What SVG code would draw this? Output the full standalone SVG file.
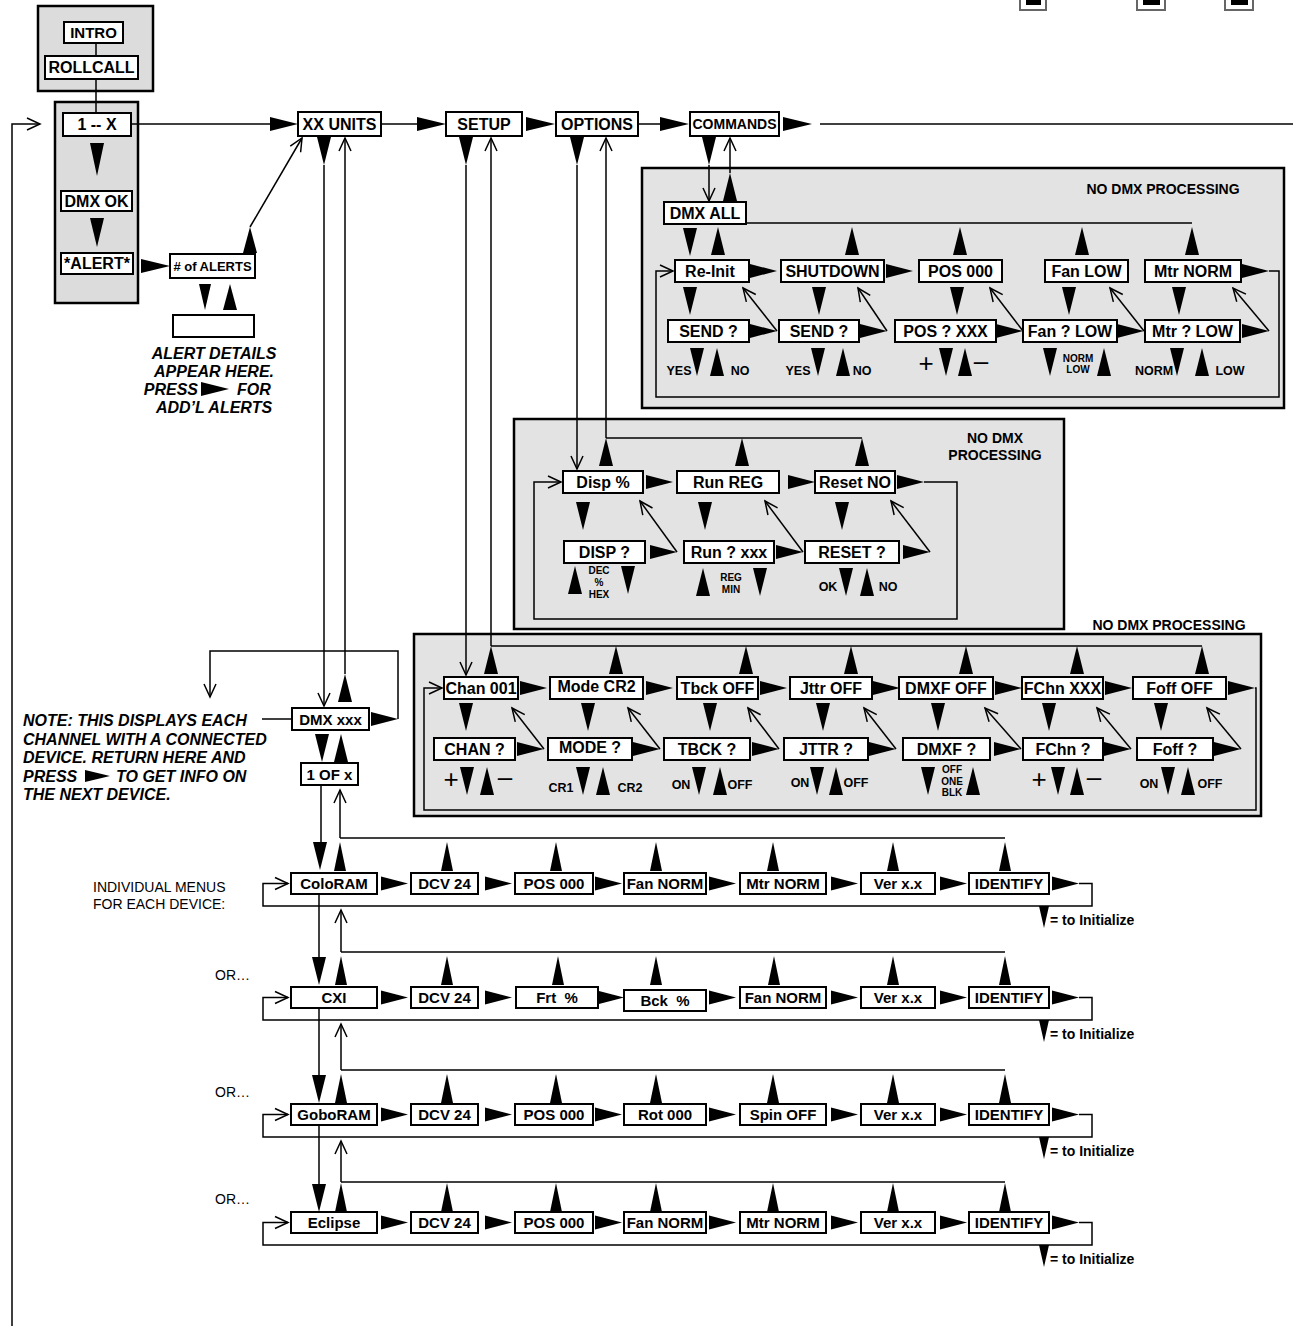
<svg xmlns="http://www.w3.org/2000/svg" width="1293" height="1336" viewBox="0 0 1293 1336">
<defs>
<style>
.pnl{fill:#e3e3e3;stroke:#000;stroke-width:2.5}
.pnl2{fill:#dcdcdc;stroke:#000;stroke-width:2.5}
.bx{fill:#fff;stroke:#000;stroke-width:2}
.ln{fill:none;stroke:#000;stroke-width:1.5}
.oa{marker-end:url(#oa)}
text{font-family:"Liberation Sans",Arial,Helvetica,sans-serif;font-weight:bold;fill:#000;dominant-baseline:central}
.c{text-anchor:middle}
.s{text-anchor:start}
.e{text-anchor:end}
.it{font-style:italic}
.rg{font-weight:normal}
.f10{font-size:10px}.f12{font-size:12.5px}.f13{font-size:13px}.f14{font-size:14px}.f15{font-size:15px}.f16{font-size:16px}.f24{font-size:26px;font-weight:normal}
</style>
<polygon id="R" points="0,-7 27,0 0,7"/>
<polygon id="D" points="-7,0 7,0 0,28"/>
<polygon id="U" points="0,0 7,28 -7,28"/>
<polygon id="Us" points="0,0 6,29 -6,29"/>
<polygon id="Ds" points="-5,0 5,0 0,22"/>
<marker id="oa" markerUnits="userSpaceOnUse" markerWidth="16" markerHeight="16" viewBox="-15 -8 16 16" refX="0" refY="0" orient="auto" overflow="visible"><path d="M-13,-6 L0,0 L-13,6" fill="none" stroke="#000" stroke-width="1.5"/></marker>
</defs>
<rect width="1293" height="1336" fill="#fff"/>

<g id="corner-marks">
<rect x="1020" y="-6" width="26" height="16" fill="#fff" stroke="#666" stroke-width="2"/><rect x="1026" y="-6" width="15" height="11" fill="#000"/>
<rect x="1137" y="-6" width="28" height="16" fill="#fff" stroke="#666" stroke-width="2"/><rect x="1143" y="-6" width="17" height="11" fill="#000"/>
<rect x="1225" y="-6" width="28" height="16" fill="#fff" stroke="#666" stroke-width="2"/><rect x="1231" y="-6" width="17" height="11" fill="#000"/>
</g>

<g id="panels">
<rect id="panel-intro" class="pnl2" x="38" y="6" width="115" height="85"/>
<rect id="panel-units" class="pnl2" x="55" y="102" width="83" height="201"/>
<rect id="panel-commands" class="pnl" x="642" y="168" width="642" height="240"/>
<rect id="panel-options" class="pnl" x="514" y="419" width="550" height="210"/>
<rect id="panel-setup" class="pnl" x="414" y="634" width="847" height="182"/>
<text class="c f14" x="1163" y="189">NO DMX PROCESSING</text>
<text class="c f14" x="995" y="438">NO DMX</text>
<text class="c f14" x="995" y="455">PROCESSING</text>
<text class="c f14" x="1169" y="625">NO DMX PROCESSING</text>
</g>

<g id="connectors">
<path class="ln" d="M96,43 V56 M96,79 V113"/>
<polygon points="90,143 104,143 97,176"/>
<polygon points="90,218 104,218 97,247"/>
<polygon points="141,259 170,266 141,273"/>
<polygon points="250,227 257,253 243,253"/>
<path class="ln oa" d="M250,227 L302,138"/>
<polygon points="199,284 211,284 205,310"/>
<polygon points="230,284 237,310 223,310"/>
<path class="ln" d="M131,124 H270"/>
<polygon points="270,117 298,124 270,131"/>
<path class="ln oa" d="M12,1326 V124 H40"/>
<path class="ln" d="M381,124 H417"/>
<polygon points="417,117 446,124 417,131"/>
<polygon points="526,117 555,124 526,131"/>
<path class="ln" d="M638,124 H660"/>
<polygon points="660,117 689,124 660,131"/>
<polygon points="783,117 812,124 783,131"/>
<path class="ln" d="M820,124 H1293"/>
<use href="#D" x="324" y="137"/>
<path class="ln oa" d="M324,165 V706"/>
<use href="#U" x="345" y="674"/>
<path class="ln oa" d="M345,674 V138"/>
<use href="#D" x="466" y="137"/>
<path class="ln oa" d="M466,165 V675"/>
<use href="#U" x="491" y="646"/>
<path class="ln oa" d="M491,646 V138"/>
<use href="#D" x="577" y="137"/>
<path class="ln oa" d="M577,165 V469"/>
<use href="#U" x="606" y="438"/>
<path class="ln oa" d="M606,438 V138"/>
<use href="#D" x="709" y="137"/>
<path class="ln oa" d="M709,165 V201"/>
<use href="#U" x="730" y="173"/>
<path class="ln oa" d="M730,173 V138"/>

<path class="ln" d="M747,223 H1192"/>
<use href="#D" x="690" y="228"/>
<use href="#U" x="718" y="227"/>
<use href="#U" x="852" y="227"/>
<use href="#U" x="960" y="227"/>
<use href="#U" x="1082" y="227"/>
<use href="#U" x="1192" y="227"/>
<use href="#R" x="750" y="271"/>
<use href="#R" x="886" y="271"/>
<use href="#R" x="1242" y="271"/>
<path class="ln oa" d="M1269,271 H1279 V397 H656 V271 H673"/>
<use href="#D" x="690" y="287"/>
<use href="#D" x="819" y="287"/>
<use href="#D" x="957" y="287"/>
<use href="#D" x="1069" y="287"/>
<use href="#D" x="1179" y="287"/>
<use href="#R" x="750" y="331"/>
<use href="#R" x="860" y="331"/>
<use href="#R" x="996" y="331"/>
<use href="#R" x="1117" y="331"/>
<use href="#R" x="1242" y="331"/>
<path class="ln oa" d="M777,331 L743,288"/>
<path class="ln oa" d="M887,331 L858,288"/>
<path class="ln oa" d="M1023,331 L990,288"/>
<path class="ln oa" d="M1144,331 L1110,288"/>
<path class="ln oa" d="M1269,331 L1233,288"/>
<use href="#D" x="697" y="348"/><use href="#U" x="717" y="348"/>
<use href="#D" x="818" y="348"/><use href="#U" x="843" y="348"/>
<use href="#D" x="946" y="348"/><use href="#U" x="965" y="348"/>
<use href="#D" x="1050" y="348"/><use href="#U" x="1104" y="348"/>
<use href="#D" x="1177" y="348"/><use href="#U" x="1202" y="348"/>

<path class="ln" d="M606,438 H862"/>
<use href="#U" x="742" y="438"/>
<use href="#U" x="862" y="438"/>
<use href="#R" x="646" y="482"/>
<use href="#R" x="788" y="482"/>
<use href="#R" x="897" y="482"/>
<path class="ln oa" d="M924,482 H957 V619 H534 V482 H561"/>
<use href="#D" x="583" y="502"/>
<use href="#D" x="705" y="502"/>
<use href="#D" x="842" y="502"/>
<use href="#R" x="650" y="552"/>
<use href="#R" x="776" y="552"/>
<use href="#R" x="903" y="552"/>
<path class="ln oa" d="M677,552 L640,501"/>
<path class="ln oa" d="M803,552 L765,501"/>
<path class="ln oa" d="M930,552 L891,501"/>
<use href="#U" x="575" y="566"/><use href="#D" x="628" y="566"/>
<use href="#U" x="703" y="568"/><use href="#D" x="760" y="568"/>
<use href="#D" x="846" y="568"/><use href="#U" x="867" y="568"/>

<path class="ln" d="M491,646 H1202"/>
<use href="#U" x="616" y="646"/>
<use href="#U" x="746" y="646"/>
<use href="#U" x="851" y="646"/>
<use href="#U" x="966" y="646"/>
<use href="#U" x="1077" y="646"/>
<use href="#U" x="1202" y="646"/>
<use href="#R" x="520" y="688"/>
<use href="#R" x="646" y="688"/>
<use href="#R" x="760" y="688"/>
<use href="#R" x="873" y="688"/>
<use href="#R" x="995" y="688"/>
<use href="#R" x="1105" y="688"/>
<use href="#R" x="1228" y="688"/>
<path class="ln oa" d="M1255,688 H1256 V810 H424 V688 H442"/>
<use href="#D" x="466" y="703"/>
<use href="#D" x="588" y="703"/>
<use href="#D" x="710" y="703"/>
<use href="#D" x="823" y="703"/>
<use href="#D" x="938" y="703"/>
<use href="#D" x="1049" y="703"/>
<use href="#D" x="1161" y="703"/>
<use href="#R" x="517" y="749"/>
<use href="#R" x="633" y="749"/>
<use href="#R" x="752" y="749"/>
<use href="#R" x="869" y="749"/>
<use href="#R" x="994" y="749"/>
<use href="#R" x="1104" y="749"/>
<use href="#R" x="1214" y="749"/>
<path class="ln oa" d="M544,749 L512,708"/>
<path class="ln oa" d="M660,749 L628,708"/>
<path class="ln oa" d="M779,749 L748,708"/>
<path class="ln oa" d="M896,749 L864,708"/>
<path class="ln oa" d="M1021,749 L985,708"/>
<path class="ln oa" d="M1131,749 L1097,708"/>
<path class="ln oa" d="M1241,749 L1207,708"/>
<use href="#D" x="467" y="767"/><use href="#U" x="487" y="767"/>
<use href="#D" x="583" y="767"/><use href="#U" x="603" y="767"/>
<use href="#D" x="699" y="767"/><use href="#U" x="720" y="767"/>
<use href="#D" x="817" y="767"/><use href="#U" x="836" y="767"/>
<use href="#D" x="928" y="767"/><use href="#U" x="973" y="767"/>
<use href="#D" x="1058" y="767"/><use href="#U" x="1077" y="767"/>
<use href="#D" x="1168" y="767"/><use href="#U" x="1188" y="767"/>

<use href="#R" x="371" y="719"/>
<path class="ln oa" d="M398,719 V651 H210 V697"/>
<path class="ln" d="M262,719 H292"/>
<use href="#D" x="322" y="734"/>
<use href="#U" x="341" y="734"/>

<path class="ln" d="M321,785 V842"/>
<path class="ln oa" d="M340,838 V790"/>
<path class="ln" d="M319,894 V957"/>
<path class="ln oa" d="M341,952 V910"/>
<path class="ln" d="M319,1008 V1075"/>
<path class="ln oa" d="M341,1070 V1024"/>
<path class="ln" d="M319,1125 V1184"/>
<path class="ln oa" d="M341,1182 V1141"/>

<path class="ln" d="M340,838 H1005"/>
<use href="#D" x="320" y="842"/>
<use href="#Us" x="340" y="842"/><use href="#Us" x="447" y="842"/><use href="#Us" x="556" y="842"/><use href="#Us" x="656" y="842"/><use href="#Us" x="773" y="842"/><use href="#Us" x="893" y="842"/><use href="#Us" x="1005" y="842"/>
<use href="#R" x="381" y="883.5"/><use href="#R" x="485" y="883.5"/><use href="#R" x="595" y="883.5"/><use href="#R" x="709" y="883.5"/><use href="#R" x="831" y="883.5"/><use href="#R" x="940" y="883.5"/><use href="#R" x="1052" y="883.5"/>
<path class="ln oa" d="M1079,883.5 H1092 V906 H263 V883.5 H288"/>
<use href="#Ds" x="1044" y="906"/>

<path class="ln" d="M341,952 H1005"/>
<use href="#D" x="319" y="957"/>
<use href="#Us" x="341" y="956"/><use href="#Us" x="447" y="956"/><use href="#Us" x="558" y="956"/><use href="#Us" x="656" y="956"/><use href="#Us" x="774" y="956"/><use href="#Us" x="893" y="956"/><use href="#Us" x="1005" y="956"/>
<use href="#R" x="381" y="997.5"/><use href="#R" x="485" y="997.5"/><use href="#R" x="597" y="997.5"/><use href="#R" x="709" y="997.5"/><use href="#R" x="831" y="997.5"/><use href="#R" x="940" y="997.5"/><use href="#R" x="1052" y="997.5"/>
<path class="ln oa" d="M1079,997.5 H1092 V1020 H263 V997.5 H288"/>
<use href="#Ds" x="1044" y="1020"/>

<path class="ln" d="M341,1070 H1005"/>
<use href="#D" x="319" y="1075"/>
<use href="#Us" x="341" y="1074"/><use href="#Us" x="447" y="1074"/><use href="#Us" x="556" y="1074"/><use href="#Us" x="656" y="1074"/><use href="#Us" x="773" y="1074"/><use href="#Us" x="893" y="1074"/><use href="#Us" x="1005" y="1074"/>
<use href="#R" x="381" y="1114.5"/><use href="#R" x="485" y="1114.5"/><use href="#R" x="595" y="1114.5"/><use href="#R" x="709" y="1114.5"/><use href="#R" x="831" y="1114.5"/><use href="#R" x="940" y="1114.5"/><use href="#R" x="1052" y="1114.5"/>
<path class="ln oa" d="M1079,1114.5 H1092 V1137 H263 V1114.5 H288"/>
<use href="#Ds" x="1044" y="1137"/>

<path class="ln" d="M341,1182 H1005"/>
<use href="#D" x="319" y="1184"/>
<use href="#Us" x="341" y="1183"/><use href="#Us" x="447" y="1183"/><use href="#Us" x="556" y="1183"/><use href="#Us" x="656" y="1183"/><use href="#Us" x="773" y="1183"/><use href="#Us" x="893" y="1183"/><use href="#Us" x="1005" y="1183"/>
<use href="#R" x="381" y="1222.5"/><use href="#R" x="485" y="1222.5"/><use href="#R" x="595" y="1222.5"/><use href="#R" x="709" y="1222.5"/><use href="#R" x="831" y="1222.5"/><use href="#R" x="940" y="1222.5"/><use href="#R" x="1052" y="1222.5"/>
<path class="ln oa" d="M1079,1222.5 H1092 V1245 H263 V1222.5 H288"/>
<use href="#Ds" x="1044" y="1245"/>
</g>

<g id="n-intro"><rect class="bx" x="64" y="22" width="59" height="21"/><text class="c f15" x="93.5" y="32.5">INTRO</text></g>
<g id="n-rollcall"><rect class="bx" x="45" y="56" width="93" height="23"/><text class="c f16" x="91.5" y="67.5">ROLLCALL</text></g>
<g id="n-1x"><rect class="bx" x="63" y="113" width="68" height="23"/><text class="c f16" x="97" y="124.5">1 -- X</text></g>
<g id="n-dmxok"><rect class="bx" x="61" y="191" width="71" height="20"/><text class="c f16" x="96.5" y="201">DMX OK</text></g>
<g id="n-alert"><rect class="bx" x="61" y="253" width="72" height="21"/><text class="c f16" x="97" y="263.5">*ALERT*</text></g>
<g id="n-numalerts"><rect class="bx" x="170" y="254" width="85" height="24"/><text class="c f13" x="212.5" y="266">#&#160;of ALERTS</text></g>
<g id="n-alertdetail"><rect class="bx" x="173" y="315" width="81" height="22"/></g>
<g id="t-alertnote">
<text class="c f16 it" x="214" y="353">ALERT DETAILS</text>
<text class="c f16 it" x="214" y="371">APPEAR HERE.</text>
<text class="e f16 it" x="198" y="389">PRESS</text>
<polygon points="201,382 229,389 201,396"/>
<text class="s f16 it" x="237" y="389">FOR</text>
<text class="c f16 it" x="214" y="407">ADD’L ALERTS</text>
</g>

<g id="n-xxunits"><rect class="bx" x="298" y="112" width="83" height="24"/><text class="c f16" x="339.5" y="124">XX UNITS</text></g>
<g id="n-setup"><rect class="bx" x="446" y="112" width="76" height="24"/><text class="c f16" x="484" y="124">SETUP</text></g>
<g id="n-options"><rect class="bx" x="556" y="112" width="82" height="24"/><text class="c f16" x="597" y="124">OPTIONS</text></g>
<g id="n-commands"><rect class="bx" x="690" y="112" width="89" height="24"/><text class="c f14" x="734.5" y="124">COMMANDS</text></g>

<g id="n-dmxall"><rect class="bx" x="664" y="202" width="82" height="22"/><text class="c f16" x="705" y="213">DMX ALL</text></g>
<g id="n-reinit"><rect class="bx" x="675" y="260" width="74" height="22"/><text class="c f16" x="710" y="271">Re-Init</text></g>
<g id="n-shutdown"><rect class="bx" x="781" y="260" width="103" height="22"/><text class="c f16" x="832.5" y="271">SHUTDOWN</text></g>
<g id="n-pos000c"><rect class="bx" x="919" y="260" width="83" height="22"/><text class="c f16" x="960.5" y="271">POS 000</text></g>
<g id="n-fanlow"><rect class="bx" x="1045" y="260" width="83" height="22"/><text class="c f16" x="1086.5" y="271">Fan LOW</text></g>
<g id="n-mtrnorm"><rect class="bx" x="1145" y="260" width="96" height="22"/><text class="c f16" x="1193" y="271">Mtr NORM</text></g>
<g id="n-send1"><rect class="bx" x="668" y="320" width="81" height="22"/><text class="c f16" x="708.5" y="331">SEND ?</text></g>
<g id="n-send2"><rect class="bx" x="779" y="320" width="80" height="22"/><text class="c f16" x="819" y="331">SEND ?</text></g>
<g id="n-posq"><rect class="bx" x="895" y="320" width="101" height="22"/><text class="c f16" x="945.5" y="331">POS ? XXX</text></g>
<g id="n-fanq"><rect class="bx" x="1023" y="320" width="94" height="22"/><text class="c f16" x="1070" y="331">Fan ? LOW</text></g>
<g id="n-mtrq"><rect class="bx" x="1145" y="320" width="95" height="22"/><text class="c f16" x="1192.5" y="331">Mtr ? LOW</text></g>
<g id="t-cmdlabels">
<text class="c f12" x="679" y="371">YES</text><text class="c f12" x="740" y="371">NO</text>
<text class="c f12" x="798" y="371">YES</text><text class="c f12" x="862" y="371">NO</text>
<text class="c f24" x="926" y="363">+</text><text class="c f24" x="981" y="361">–</text>
<text class="c f10" x="1078" y="358">NORM</text><text class="c f10" x="1078" y="369">LOW</text>
<text class="c f12" x="1154" y="371">NORM</text><text class="c f12" x="1230" y="371">LOW</text>
</g>

<g id="n-disp"><rect class="bx" x="563" y="471" width="80" height="22"/><text class="c f16" x="603" y="482">Disp %</text></g>
<g id="n-runreg"><rect class="bx" x="677" y="471" width="102" height="22"/><text class="c f16" x="728" y="482">Run REG</text></g>
<g id="n-resetno"><rect class="bx" x="815" y="471" width="80" height="22"/><text class="c f16" x="855" y="482">Reset NO</text></g>
<g id="n-dispq"><rect class="bx" x="564" y="541" width="81" height="22"/><text class="c f16" x="604.5" y="552">DISP ?</text></g>
<g id="n-runq"><rect class="bx" x="684" y="541" width="90" height="22"/><text class="c f16" x="729" y="552">Run ? xxx</text></g>
<g id="n-resetq"><rect class="bx" x="805" y="541" width="94" height="22"/><text class="c f16" x="852" y="552">RESET ?</text></g>
<g id="t-optlabels">
<text class="c f10" x="599" y="570">DEC</text><text class="c f10" x="599" y="582">%</text><text class="c f10" x="599" y="594">HEX</text>
<text class="c f10" x="731" y="577">REG</text><text class="c f10" x="731" y="589">MIN</text>
<text class="c f12" x="828" y="587">OK</text><text class="c f12" x="888" y="587">NO</text>
</g>

<g id="n-chan"><rect class="bx" x="444" y="677" width="74" height="22"/><text class="c f16" x="481" y="688">Chan 001</text></g>
<g id="n-mode"><rect class="bx" x="550" y="677" width="93" height="22"/><text class="c f16" x="596.5" y="686">Mode CR2</text></g>
<g id="n-tbck"><rect class="bx" x="677" y="677" width="81" height="22"/><text class="c f16" x="717.5" y="688">Tbck OFF</text></g>
<g id="n-jttr"><rect class="bx" x="790" y="677" width="82" height="22"/><text class="c f16" x="831" y="688">Jttr OFF</text></g>
<g id="n-dmxf"><rect class="bx" x="899" y="677" width="94" height="22"/><text class="c f16" x="946" y="688">DMXF OFF</text></g>
<g id="n-fchn"><rect class="bx" x="1022" y="677" width="81" height="22"/><text class="c f16" x="1062.5" y="688">FChn XXX</text></g>
<g id="n-foff"><rect class="bx" x="1133" y="677" width="93" height="22"/><text class="c f16" x="1179.5" y="688">Foff OFF</text></g>
<g id="n-chanq"><rect class="bx" x="434" y="738" width="81" height="22"/><text class="c f16" x="474.5" y="749">CHAN ?</text></g>
<g id="n-modeq"><rect class="bx" x="548" y="738" width="84" height="22"/><text class="c f16" x="590" y="747">MODE ?</text></g>
<g id="n-tbckq"><rect class="bx" x="664" y="738" width="86" height="22"/><text class="c f16" x="707" y="749">TBCK ?</text></g>
<g id="n-jttrq"><rect class="bx" x="784" y="738" width="84" height="22"/><text class="c f16" x="826" y="749">JTTR ?</text></g>
<g id="n-dmxfq"><rect class="bx" x="903" y="738" width="87" height="22"/><text class="c f16" x="946.5" y="749">DMXF ?</text></g>
<g id="n-fchnq"><rect class="bx" x="1023" y="738" width="80" height="22"/><text class="c f16" x="1063" y="749">FChn ?</text></g>
<g id="n-foffq"><rect class="bx" x="1137" y="738" width="76" height="22"/><text class="c f16" x="1175" y="749">Foff ?</text></g>
<g id="t-setlabels">
<text class="c f24" x="451" y="779">+</text><text class="c f24" x="505" y="777">–</text>
<text class="c f12" x="561" y="788">CR1</text><text class="c f12" x="630" y="788">CR2</text>
<text class="c f12" x="681" y="785">ON</text><text class="c f12" x="740" y="785">OFF</text>
<text class="c f12" x="800" y="783">ON</text><text class="c f12" x="856" y="783">OFF</text>
<text class="c f10" x="952" y="769">OFF</text><text class="c f10" x="952" y="781">ONE</text><text class="c f10" x="952" y="792">BLK</text>
<text class="c f24" x="1039" y="779">+</text><text class="c f24" x="1094" y="777">–</text>
<text class="c f12" x="1149" y="784">ON</text><text class="c f12" x="1210" y="784">OFF</text>
</g>

<g id="n-dmxxxx"><rect class="bx" x="292" y="708" width="77" height="22"/><text class="c f15" x="330.5" y="719">DMX xxx</text></g>
<g id="n-1ofx"><rect class="bx" x="301" y="763" width="57" height="22"/><text class="c f15" x="329.5" y="774">1 OF x</text></g>
<g id="t-note">
<text class="s f16 it" x="23" y="720">NOTE: THIS DISPLAYS EACH</text>
<text class="s f16 it" x="23" y="739">CHANNEL WITH A CONNECTED</text>
<text class="s f16 it" x="23" y="757">DEVICE. RETURN HERE AND</text>
<text class="s f16 it" x="23" y="776">PRESS</text>
<polygon points="85,770 110,776 85,782"/>
<text class="s f16 it" x="116" y="776">TO GET INFO ON</text>
<text class="s f16 it" x="23" y="794">THE NEXT DEVICE.</text>
</g>

<g id="t-devlabels">
<text class="s f14 rg" x="93" y="887">INDIVIDUAL MENUS</text>
<text class="s f14 rg" x="93" y="904">FOR EACH DEVICE:</text>
<text class="s f14 rg" x="215" y="975">OR…</text>
<text class="s f14 rg" x="215" y="1092">OR…</text>
<text class="s f14 rg" x="215" y="1199">OR…</text>
<text class="s f14" x="1050" y="920">= to Initialize</text>
<text class="s f14" x="1050" y="1034">= to Initialize</text>
<text class="s f14" x="1050" y="1151">= to Initialize</text>
<text class="s f14" x="1050" y="1259">= to Initialize</text>
</g>
<g id="row-coloram">
<g id="n-coloram"><rect class="bx" x="291" y="873" width="86" height="21"/><text class="c f15" x="334" y="883.5">ColoRAM</text></g>
<g id="n-r1-dcv"><rect class="bx" x="411" y="873" width="67" height="21"/><text class="c f15" x="444.5" y="883.5">DCV 24</text></g>
<g id="n-r1-pos"><rect class="bx" x="515" y="873" width="78" height="21"/><text class="c f15" x="554" y="883.5">POS 000</text></g>
<g id="n-r1-fan"><rect class="bx" x="624" y="873" width="82" height="21"/><text class="c f15" x="665" y="883.5">Fan NORM</text></g>
<g id="n-r1-mtr"><rect class="bx" x="740" y="873" width="86" height="21"/><text class="c f15" x="783" y="883.5">Mtr NORM</text></g>
<g id="n-r1-ver"><rect class="bx" x="861" y="873" width="74" height="21"/><text class="c f15" x="898" y="883.5">Ver x.x</text></g>
<g id="n-r1-id"><rect class="bx" x="969" y="873" width="80" height="21"/><text class="c f15" x="1009" y="883.5">IDENTIFY</text></g>
</g>
<g id="row-cxi">
<g id="n-cxi"><rect class="bx" x="291" y="987" width="86" height="21"/><text class="c f15" x="334" y="997.5">CXI</text></g>
<g id="n-r2-dcv"><rect class="bx" x="411" y="987" width="67" height="21"/><text class="c f15" x="444.5" y="997.5">DCV 24</text></g>
<g id="n-r2-frt"><rect class="bx" x="516" y="987" width="82" height="21"/><text class="c f15" x="557" y="997.5">Frt&#160;&#160;%</text></g>
<g id="n-r2-bck"><rect class="bx" x="624" y="990" width="82" height="21"/><text class="c f15" x="665" y="1000.5">Bck&#160;&#160;%</text></g>
<g id="n-r2-fan"><rect class="bx" x="740" y="987" width="86" height="21"/><text class="c f15" x="783" y="997.5">Fan NORM</text></g>
<g id="n-r2-ver"><rect class="bx" x="861" y="987" width="74" height="21"/><text class="c f15" x="898" y="997.5">Ver x.x</text></g>
<g id="n-r2-id"><rect class="bx" x="969" y="987" width="80" height="21"/><text class="c f15" x="1009" y="997.5">IDENTIFY</text></g>
</g>
<g id="row-goboram">
<g id="n-goboram"><rect class="bx" x="291" y="1104" width="86" height="21"/><text class="c f15" x="334" y="1114.5">GoboRAM</text></g>
<g id="n-r3-dcv"><rect class="bx" x="411" y="1104" width="67" height="21"/><text class="c f15" x="444.5" y="1114.5">DCV 24</text></g>
<g id="n-r3-pos"><rect class="bx" x="515" y="1104" width="78" height="21"/><text class="c f15" x="554" y="1114.5">POS 000</text></g>
<g id="n-r3-rot"><rect class="bx" x="624" y="1104" width="82" height="21"/><text class="c f15" x="665" y="1114.5">Rot 000</text></g>
<g id="n-r3-spin"><rect class="bx" x="740" y="1104" width="86" height="21"/><text class="c f15" x="783" y="1114.5">Spin OFF</text></g>
<g id="n-r3-ver"><rect class="bx" x="861" y="1104" width="74" height="21"/><text class="c f15" x="898" y="1114.5">Ver x.x</text></g>
<g id="n-r3-id"><rect class="bx" x="969" y="1104" width="80" height="21"/><text class="c f15" x="1009" y="1114.5">IDENTIFY</text></g>
</g>
<g id="row-eclipse">
<g id="n-eclipse"><rect class="bx" x="291" y="1212" width="86" height="21"/><text class="c f15" x="334" y="1222.5">Eclipse</text></g>
<g id="n-r4-dcv"><rect class="bx" x="411" y="1212" width="67" height="21"/><text class="c f15" x="444.5" y="1222.5">DCV 24</text></g>
<g id="n-r4-pos"><rect class="bx" x="515" y="1212" width="78" height="21"/><text class="c f15" x="554" y="1222.5">POS 000</text></g>
<g id="n-r4-fan"><rect class="bx" x="624" y="1212" width="82" height="21"/><text class="c f15" x="665" y="1222.5">Fan NORM</text></g>
<g id="n-r4-mtr"><rect class="bx" x="740" y="1212" width="86" height="21"/><text class="c f15" x="783" y="1222.5">Mtr NORM</text></g>
<g id="n-r4-ver"><rect class="bx" x="861" y="1212" width="74" height="21"/><text class="c f15" x="898" y="1222.5">Ver x.x</text></g>
<g id="n-r4-id"><rect class="bx" x="969" y="1212" width="80" height="21"/><text class="c f15" x="1009" y="1222.5">IDENTIFY</text></g>
</g>
</svg>
